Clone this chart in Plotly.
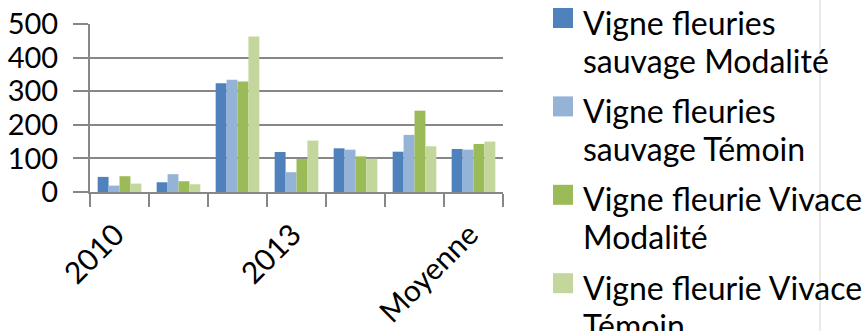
import plotly.graph_objects as go

# Categories (years + average) and the four series
categories = ["2010", "2011", "2012", "2013", "2014", "2015", "Moyenne"]
shown_labels = ["2010", "", "", "2013", "", "", "Moyenne"]

series_names = [
    "Vigne fleuries<br>sauvage Modalité",
    "Vigne fleuries<br>sauvage Témoin",
    "Vigne fleurie Vivace<br>Modalité",
    "Vigne fleurie Vivace<br>Témoin",
]
sauvage_modalite = [45, 29, 324, 119, 130, 120, 128]
sauvage_temoin = [19, 53, 334, 59, 126, 170, 126]
vivace_modalite = [47, 32, 329, 98, 106, 242, 143]
vivace_temoin = [25, 23, 463, 153, 99, 136, 150]
series_values = [sauvage_modalite, sauvage_temoin, vivace_modalite, vivace_temoin]
colors = ["#4F81BD", "#95B3D7", "#9BBB59", "#C3D69B"]

FONT = "Lato"
GRID = "#878787"

fig = go.Figure()
for name, vals, col in zip(series_names, series_values, colors):
    fig.add_trace(go.Bar(
        x=categories, y=vals, name=name.replace("<br>", " "),
        marker=dict(color=col, line=dict(width=0)),
        showlegend=False,
    ))

W, H = 866, 331
L, R, T, B = 90, 363, 24, 139
pw, ph = W - L - R, H - T - B


def px_x(px):
    return (px - L) / pw


def px_y(py):
    return (H - B - py) / ph


shapes = []
annotations = []
# Hand-laid legend: coloured squares and wrapped labels
for i, (name, col) in enumerate(zip(series_names, colors)):
    top = 8 + 88.4 * i
    shapes.append(dict(
        type="rect", xref="paper", yref="paper",
        x0=px_x(553), x1=px_x(573), y0=px_y(top), y1=px_y(top + 20),
        fillcolor=col, line=dict(width=0),
    ))
    for j, line in enumerate(name.split("<br>")):
        baseline = top + 25 + 38 * j
        annotations.append(dict(
            text=line, xref="paper", yref="paper",
            x=px_x(581), y=px_y(baseline - 11),
            xanchor="left", yanchor="middle", showarrow=False,
            font=dict(family=FONT, size=32, color="#000000"),
        ))

# Thin chart-area border on the right
shapes.append(dict(
    type="line", xref="paper", yref="paper",
    x0=px_x(820), x1=px_x(820), y0=px_y(H), y1=px_y(0),
    line=dict(color="#D4D4D4", width=1),
))

fig.update_layout(
    width=W, height=H,
    margin=dict(l=L, r=R, t=T, b=B, pad=0, autoexpand=False),
    paper_bgcolor="white", plot_bgcolor="white",
    barmode="group", bargap=0.26, bargroupgap=0,
    font=dict(family=FONT, size=30, color="#000000"),
    shapes=shapes, annotations=annotations,
)
fig.update_xaxes(
    type="category", automargin=False,
    tickmode="array", tickvals=categories, ticktext=shown_labels,
    tickangle=-45,
    showline=True, linecolor=GRID, linewidth=2,
    ticks="outside", tickson="boundaries", ticklen=13, tickwidth=2, tickcolor=GRID,
    showgrid=False,
    ticklabelstandoff=11, ticklabelshift=-4,
    tickfont=dict(family=FONT, size=30, color="#000000"),
)
fig.update_yaxes(
    range=[0, 500], dtick=100, automargin=False,
    showgrid=True, gridcolor=GRID, gridwidth=2,
    showline=True, linecolor=GRID, linewidth=2,
    ticks="outside", ticklen=15, tickwidth=2, tickcolor=GRID,
    zeroline=False,
    ticklabelstandoff=9,
    tickfont=dict(family=FONT, size=29, color="#000000"),
)

fig.write_html("out.html")
